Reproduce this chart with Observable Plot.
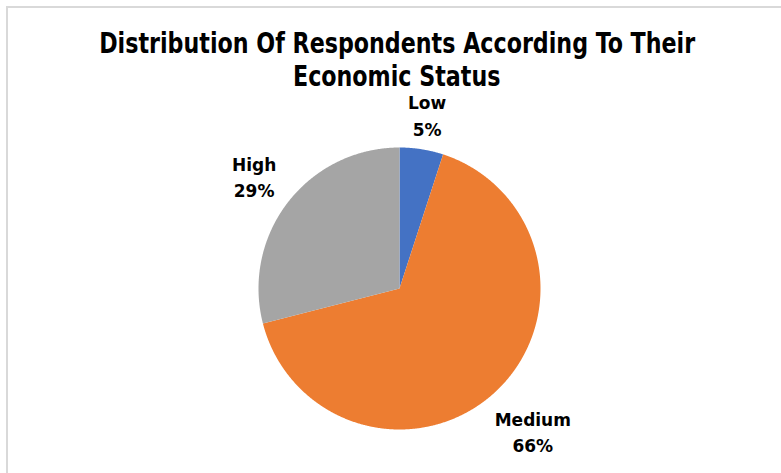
<!DOCTYPE html>
<html><head><meta charset="utf-8">
<script src="https://cdn.jsdelivr.net/npm/d3@7"></script>
<script src="https://cdn.jsdelivr.net/npm/@observablehq/plot@0.6"></script>
<style>
body{margin:0;background:#fff;width:781px;height:473px;overflow:hidden;position:relative;font-family:"DejaVu Sans",sans-serif}
#frame{position:absolute;left:6px;top:6px;width:800px;height:500px;border-top:2px solid #d9d9d9;border-left:2px solid #d9d9d9;pointer-events:none}
#title{position:absolute;left:0;top:0;width:781px;box-sizing:border-box;padding-top:27px;padding-left:13px;text-align:center;font-family:"Liberation Sans Narrow","DejaVu Sans Condensed",sans-serif;font-weight:bold;font-size:28px;line-height:33px;color:#000;white-space:nowrap}
#title span{display:inline-block;transform-origin:center;line-height:26px}
#chart svg{display:block}
</style></head><body>
<div id="chart"></div>
<div id="title"><span id="t1">Distribution Of Respondents According To Their</span><br><span id="t2">Economic Status</span></div>
<div id="frame"></div>
<script>
const categories = ["Low", "Medium", "High"];
const percents = [5, 66, 29];
const colors = ["#4472C4", "#ED7D31", "#A5A5A5"];

// fit title width
const t1 = document.getElementById("t1"), t2 = document.getElementById("t2");
const s = 596 / t1.getBoundingClientRect().width;
t1.style.transform = `scaleX(${s})`;
t2.style.transform = `scaleX(${s})`;

const data = categories.map((c, i) => ({category: c, value: percents[i]}));
const arcs = d3.pie().sort(null).value(d => d.value)(data);

const features = arcs.map(a => {
  const n = Math.max(2, Math.ceil((a.endAngle - a.startAngle) / 0.005) + 1);
  const ring = [[0, 0]];
  for (let i = 0; i < n; i++) {
    const t = a.startAngle + (a.endAngle - a.startAngle) * i / (n - 1);
    ring.push([Math.sin(t), Math.cos(t)]);
  }
  ring.push([0, 0]);
  return {type: "Feature", properties: {category: a.data.category}, geometry: {type: "Polygon", coordinates: [ring]}};
});

// outside-end label placement: push the label box just clear of the rim
const R = 141, fontSize = 17, gap = 14;
const ctx = document.createElement("canvas").getContext("2d");
ctx.font = `bold ${fontSize}px "DejaVu Sans"`;
const labels = arcs.map(a => {
  const m = (a.startAngle + a.endAngle) / 2;
  const lines = [a.data.category, `${a.data.value}%`];
  const halfW = d3.max(lines, l => ctx.measureText(l).width) / 2;
  const halfH = fontSize * 1.1;
  const support = halfW * Math.abs(Math.sin(m)) + halfH * Math.abs(Math.cos(m));
  const k = (R + gap + support) / R;
  return {x: Math.sin(m) * k, y: Math.cos(m) * k, text: lines.join("\n")};
});

const chart = Plot.plot({
  width: 781,
  height: 473,
  margin: 0,
  projection: d3.geoIdentity().reflectY(true).scale(R).translate([399, 288]),
  color: {domain: categories, range: colors},
  marks: [
    Plot.geo(features, {fill: d => d.properties.category}),
    Plot.text(labels, {x: "x", y: "y", text: "text", fontSize, fontWeight: "bold", lineHeight: 1.55, fill: "#000", fontFamily: "DejaVu Sans"})
  ]
});
document.getElementById("chart").appendChild(chart);
</script>
</body></html>
